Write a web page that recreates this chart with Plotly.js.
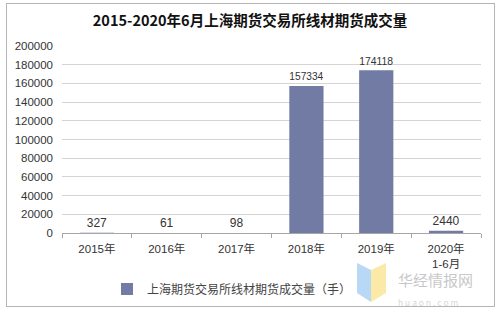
<!DOCTYPE html>
<html>
<head>
<meta charset="utf-8">
<script src="https://cdn.plot.ly/plotly-3.0.1.min.js"></script>
<style>
html,body{margin:0;padding:0;background:#fff;}
#wrap{position:relative;width:500px;height:313px;}
#chart{position:absolute;left:0;top:0;width:500px;height:313px;}
#frame{position:absolute;left:6px;top:3px;width:487px;height:302px;border:1.5px solid #b5b5b5;pointer-events:none;}
</style>
</head>
<body>
<div id="wrap"><div id="chart"></div><div id="frame"></div></div>
<script>
const categories = ["2015年", "2016年", "2017年", "2018年", "2019年", "2020年<br>1-6月"];
const volumes = [327, 61, 98, 157334, 174118, 2440];
const seriesName = "上海期货交易所线材期货成交量（手）";
const titleText = "2015-2020年6月上海期货交易所线材期货成交量";
const yTicks = [0, 20000, 40000, 60000, 80000, 100000, 120000, 140000, 160000, 180000, 200000];

const font = "Liberation Sans, Arial, Noto Sans CJK SC, sans-serif";

const trace = {
  type: "bar",
  x: categories,
  y: volumes,
  name: seriesName,
  marker: {color: "#717ba4"},
  text: volumes.map(String),
  textposition: "outside",
  textfont: {family: font, size: 12, color: "#333"},
  cliponaxis: false,
  showlegend: true
};

const px = v => (v - 62) / 419;
const py = v => -(v - 233) / 187;

const layout = {
  width: 500, height: 313,
  paper_bgcolor: "#fff", plot_bgcolor: "#fff",
  margin: {l: 62, r: 19, t: 46, b: 80},
  bargap: 0.51,
  title: {text: "<b>" + titleText + "</b>", x: 0.5, xref: "container", xanchor: "center", y: 1 - 21 / 313, yanchor: "middle",
          automargin: false,
          font: {family: "Noto Sans CJK SC, sans-serif", size: 14.5, color: "#111"}},
  xaxis: {
    type: "category", automargin: false,
    showline: true, linecolor: "#a6a6a6", linewidth: 1,
    ticks: "outside", tickson: "boundaries", ticklen: 4, tickcolor: "#a6a6a6",
    ticklabelstandoff: 5,
    tickfont: {family: font, size: 11.5, color: "#333"},
    showgrid: false, fixedrange: true
  },
  yaxis: {
    automargin: false,
    range: [0, 200000],
    tickvals: yTicks,
    ticktext: yTicks.map(String),
    showgrid: true, gridcolor: "#d4d4d4", gridwidth: 1,
    zeroline: false, showline: false, ticks: "",
    ticklabelstandoff: 8,
    tickfont: {family: font, size: 11.5, color: "#333"},
    fixedrange: true
  },
  showlegend: true,
  legend: {orientation: "h", xref: "container", yref: "container", x: 107 / 500, xanchor: "left",
           y: 1 - 289 / 313, yanchor: "middle",
           font: {family: "Noto Sans CJK SC, sans-serif", size: 12, color: "#444"},
           itemwidth: 30, bgcolor: "rgba(0,0,0,0)"},
  annotations: [
    {text: "华经情报网<br><span style='font-size:8.5px;color:#d8d8d8'>h u a o n . c o m</span>",
     xref: "paper", yref: "paper", x: px(396), y: py(288), align: "left",
     xanchor: "left", yanchor: "middle", showarrow: false,
     font: {family: "Noto Sans CJK SC, sans-serif", size: 15, color: "#c8c8c8"}}
  ],
  shapes: [
    {type: "path", xref: "paper", yref: "paper", layer: "above",
     path: "M " + px(357) + " " + py(263) + " L " + px(371) + " " + py(270) +
           " L " + px(371) + " " + py(302) + " L " + px(357) + " " + py(293) + " Z",
     fillcolor: "#b8d8f5", line: {width: 0}},
    {type: "path", xref: "paper", yref: "paper", layer: "above",
     path: "M " + px(371) + " " + py(270) + " L " + px(386) + " " + py(263) +
           " L " + px(386) + " " + py(293) + " L " + px(371) + " " + py(302) + " Z",
     fillcolor: "#fbe9a8", line: {width: 0}}
  ]
};

Plotly.newPlot("chart", [trace], layout, {displayModeBar: false, staticPlot: true});
</script>
</body>
</html>
